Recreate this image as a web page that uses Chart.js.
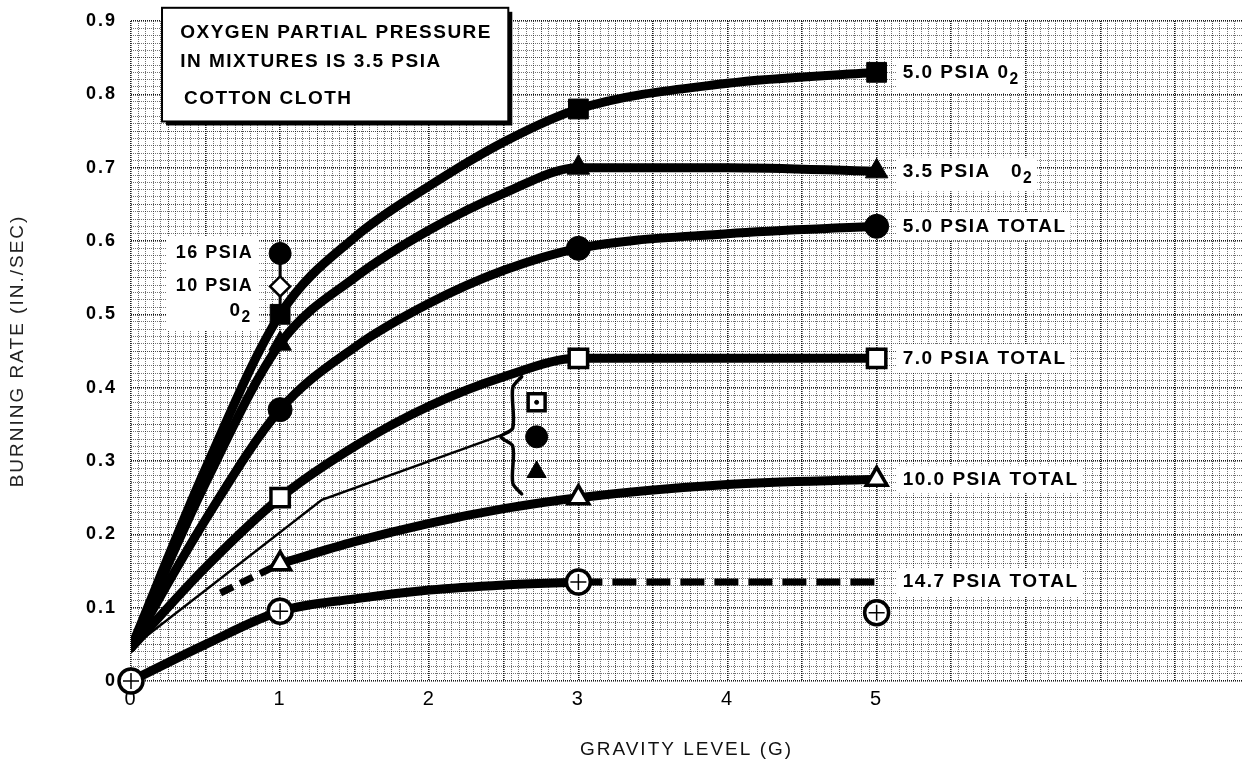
<!DOCTYPE html>
<html><head><meta charset="utf-8">
<script src="https://cdn.jsdelivr.net/npm/chart.js@4/dist/chart.umd.min.js"></script>
<style>html,body{margin:0;padding:0;background:#fff;overflow:hidden}canvas{display:block}</style>
</head><body><canvas id="c" width="1242" height="764"></canvas>
<script>
// ---------------- DATA ----------------
const gravity      = [0, 0.5, 1, 1.5, 2, 2.5, 3, 4, 5];
const o2_50psia    = [0.045, 0.29, 0.50, 0.605, 0.675, 0.735, 0.78, 0.815, 0.83];
const o2_35psia    = [0.045, 0.27, 0.46, 0.55, 0.615, 0.665, 0.70, 0.70, 0.695];
const total_50psia = [0.045, 0.22, 0.37, 0.455, 0.515, 0.56, 0.59, 0.61, 0.62];
const total_70psia = [0.045, 0.155, 0.25, 0.32, 0.375, 0.415, 0.44, 0.44, 0.44];

const gravity100     = [1, 1.5, 2, 2.5, 3, 4, 5];
const total_100psia  = [0.16, 0.19, 0.215, 0.235, 0.25, 0.268, 0.275];
const gravity100ext  = [0.6, 1];
const total_100ext   = [0.12, 0.16];

const gravity147     = [0, 0.5, 1, 1.5, 2, 2.5, 3];
const total_147psia  = [0, 0.05, 0.095, 0.112, 0.124, 0.131, 0.135];
const gravity147dash = [3, 5];
const total_147dash  = [0.135, 0.135];
const gravity147iso  = [5];
const total_147iso   = [0.093];

const thinG    = [0, 1.28, 2.48];
const thinRate = [0.045, 0.247, 0.335];
const bracketG    = [2.62, 2.56, 2.56, 2.48, 2.56, 2.56, 2.62];
const bracketRate = [0.415, 0.40, 0.345, 0.333, 0.32, 0.27, 0.255];

const sideG = [2.72];
const sideOpenSquare = [0.38];
const sideFilledCircle = [0.333];
const sideFilledTriangle = [0.285];

const pureG = [1];
const pure16psia = [0.583];
const pure10psia = [0.538];
const pureLinkG = [1, 1];
const pureLinkRate = [0.583, 0.50];

const measuredG = [1, 3, 5];
const xTickLabels = [0, 1, 2, 3, 4, 5];
const yTickLabels = [0, 0.1, 0.2, 0.3, 0.4, 0.5, 0.6, 0.7, 0.8, 0.9];

const seriesLabels = [
  {parts: [{t: '5.0 PSIA 0'}, {t: '2', sub: true}], g: 5, v: 0.83},
  {parts: [{t: '3.5 PSIA   0'}, {t: '2', sub: true}], g: 5, v: 0.695},
  {parts: [{t: '5.0 PSIA TOTAL'}], g: 5, v: 0.62},
  {parts: [{t: '7.0 PSIA TOTAL'}], g: 5, v: 0.44},
  {parts: [{t: '10.0 PSIA TOTAL'}], g: 5, v: 0.275},
  {parts: [{t: '14.7 PSIA TOTAL'}], g: 5, v: 0.135}
];
const noteLines = ['OXYGEN PARTIAL PRESSURE', 'IN MIXTURES IS 3.5 PSIA', 'COTTON CLOTH'];
const pureLabels = ['16 PSIA', '10 PSIA'];

// ---------------- helpers ----------------
const FONT = '"Liberation Sans", Arial, sans-serif';
const pts = (xs, ys) => xs.map((x, i) => ({x, y: ys[i]}));
const pick = (xs, ys, keep) => pts(xs, ys).filter(p => keep.includes(p.x));

function curve(data, extra) {
  return Object.assign({
    data, borderColor: '#000', borderWidth: 9, pointRadius: 0, fill: false,
    cubicInterpolationMode: 'monotone', order: 2, borderCapStyle: 'round'
  }, extra || {});
}
function marker(data, style, radius, filled, extra) {
  return Object.assign({
    data, showLine: false, pointStyle: style, pointRadius: radius,
    pointBackgroundColor: filled ? '#000' : '#fff', pointBorderColor: '#000',
    pointBorderWidth: filled ? 1 : 3.5, order: 0, clip: false
  }, extra || {});
}

const datasets = [
  marker(pick(gravity147, total_147psia, [0, 1, 3]).concat(pts(gravity147iso, total_147iso)), 'cross', 8, false, {pointBorderWidth: 1.5, order: -1}),
  marker(pts(sideG, sideOpenSquare), 'circle', 2, true, {order: -1}),
  marker(pick(gravity, o2_50psia, measuredG), 'rect', 14, true),
  marker(pick(gravity, o2_35psia, measuredG), 'triangle', 13, true),
  marker(pick(gravity, total_50psia, measuredG), 'circle', 12, true),
  marker(pick(gravity, total_70psia, measuredG), 'rect', 13, false),
  marker(pick(gravity100, total_100psia, measuredG), 'triangle', 12, false),
  marker(pick(gravity147, total_147psia, [0, 1, 3]), 'circle', 12, false),
  marker(pts(gravity147iso, total_147iso), 'circle', 12, false),
  marker(pts(sideG, sideOpenSquare), 'rect', 12, false),
  marker(pts(sideG, sideFilledCircle), 'circle', 11, true),
  marker(pts(sideG, sideFilledTriangle), 'triangle', 11, true),
  marker(pts(pureG, pure16psia), 'circle', 11, true),
  marker(pts(pureG, pure10psia), 'rectRot', 10, false, {pointBorderWidth: 2.5}),
  curve(pts(gravity, o2_50psia)),
  curve(pts(gravity, o2_35psia)),
  curve(pts(gravity, total_50psia)),
  curve(pts(gravity, total_70psia)),
  curve(pts(gravity100, total_100psia)),
  curve(pts(gravity100ext, total_100ext), {borderDash: [14, 8], borderWidth: 7, borderCapStyle: 'butt'}),
  curve(pts(gravity147, total_147psia)),
  curve(pts(gravity147dash, total_147dash), {borderDash: [24, 10], borderWidth: 7, borderCapStyle: 'butt'}),
  curve(pts(thinG, thinRate), {borderWidth: 2.5, cubicInterpolationMode: 'default', tension: 0}),
  curve(pts(bracketG, bracketRate), {borderWidth: 3.5, cubicInterpolationMode: 'default', tension: 0.3}),
  curve(pts(pureLinkG, pureLinkRate), {borderWidth: 3, cubicInterpolationMode: 'default', tension: 0})
];

// ---------------- annotation plugin ----------------
function partsWidth(ctx, parts, size) {
  let w = 0;
  for (const p of parts) {
    ctx.font = `bold ${p.sub ? size * 0.82 : size}px ${FONT}`;
    w += ctx.measureText(p.t).width;
  }
  return w;
}
function drawParts(ctx, parts, x, yc, size) {
  let cx = x;
  for (const p of parts) {
    ctx.font = `bold ${p.sub ? size * 0.82 : size}px ${FONT}`;
    ctx.fillText(p.t, cx, yc + (p.sub ? size * 0.38 : 0));
    cx += ctx.measureText(p.t).width;
  }
}

const annotate = {
  id: 'annotate',
  beforeDraw(chart) { chart.ctx.letterSpacing = '2px'; },
  afterDraw(chart) {
    const ctx = chart.ctx;
    const xs = chart.scales.x, ys = chart.scales.y;
    const X = v => xs.getPixelForValue(v), Y = v => ys.getPixelForValue(v);
    ctx.save();
    ctx.letterSpacing = '1.5px';
    ctx.textBaseline = 'middle';
    ctx.textAlign = 'left';
    ctx.fillStyle = '#000';
    const size = 19;
    for (const l of seriesLabels) {
      const x0 = X(l.g) + 26, yc = Y(l.v);
      const w = partsWidth(ctx, l.parts, size);
      const hasSub = l.parts.some(p => p.sub);
      ctx.fillStyle = '#fff';
      ctx.fillRect(x0 - 6, yc - 14, w + 10, hasSub ? 34 : 28);
      ctx.fillStyle = '#000';
      drawParts(ctx, l.parts, x0, yc, size);
    }
    const bx0 = X(0.208), bx1 = X(2.53), by0 = Y(0.918), by1 = Y(0.763);
    ctx.fillStyle = '#000';
    ctx.fillRect(bx0 + 4, by0 + 4, bx1 - bx0, by1 - by0);
    ctx.fillStyle = '#fff';
    ctx.fillRect(bx0, by0, bx1 - bx0, by1 - by0);
    ctx.lineWidth = 2;
    ctx.strokeStyle = '#000';
    ctx.strokeRect(bx0, by0, bx1 - bx0, by1 - by0);
    ctx.fillStyle = '#000';
    ctx.font = `bold ${size}px ${FONT}`;
    ctx.fillText(noteLines[0], X(0.33), Y(0.884));
    ctx.fillText(noteLines[1], X(0.33), Y(0.845));
    ctx.fillText(noteLines[2], X(0.355), Y(0.794));
    ctx.fillStyle = '#fff';
    ctx.fillRect(X(0.235), Y(0.607), X(0.86) - X(0.235), Y(0.478) - Y(0.607));
    ctx.fillStyle = '#000';
    ctx.textAlign = 'right';
    ctx.font = `bold ${size - 1}px ${FONT}`;
    ctx.fillText(pureLabels[0], X(0.82), Y(pure16psia[0]));
    ctx.fillText(pureLabels[1], X(0.82), Y(pure10psia[0]));
    ctx.textAlign = 'left';
    drawParts(ctx, [{t: '0'}, {t: '2', sub: true}], X(0.66), Y(0.505), size);
    ctx.restore();
    ctx.letterSpacing = '0px';
  }
};

// ---------------- grid styling ----------------
const near = (v, step) => Math.abs(v / step - Math.round(v / step)) < 1e-6;
const gridColorX = c => near(c.tick.value, 0.5) ? 'rgba(0,0,0,0.9)' : near(c.tick.value, 0.25) ? 'rgba(0,0,0,0.7)' : 'rgba(0,0,0,0.55)';
const gridWidthX = c => near(c.tick.value, 0.5) ? 1.6 : 1;
const gridColorY = c => near(c.tick.value, 0.1) ? 'rgba(0,0,0,0.9)' : near(c.tick.value, 0.05) ? 'rgba(0,0,0,0.7)' : 'rgba(0,0,0,0.55)';
const gridWidthY = c => near(c.tick.value, 0.1) ? 1.6 : 1;

new Chart(document.getElementById('c'), {
  type: 'line',
  data: {datasets},
  plugins: [annotate],
  options: {
    responsive: false, animation: false, events: [],
    layout: {autoPadding: false, padding: {top: 21, right: 0, bottom: 0, left: 0}},
    plugins: {legend: {display: false}, tooltip: {enabled: false}},
    scales: {
      x: {
        type: 'linear', min: 0, max: 7.45,
        afterFit: s => { s.height = 83; s.paddingRight = 0; s.paddingLeft = 0; },
        ticks: {
          stepSize: 0.05, autoSkip: false, maxRotation: 0, minRotation: 0, padding: 6, color: '#000',
          font: {size: 20, family: '"Liberation Sans Narrow", "Liberation Sans", Arial, sans-serif'},
          callback: v => { const t = xTickLabels.find(t => Math.abs(t - v) < 1e-6); return t === undefined ? '' : String(t); }
        },
        grid: {drawTicks: false, color: gridColorX, lineWidth: gridWidthX},
        border: {display: false, dash: [1, 1]},
        title: {display: true, text: 'GRAVITY LEVEL (G)', color: '#111',
          font: {size: 19, family: '"Liberation Sans Narrow", "Liberation Sans", Arial, sans-serif'}, padding: {top: 0, bottom: 3}}
      },
      y: {
        type: 'linear', min: 0, max: 0.9,
        afterFit: s => { s.width = 131; s.paddingTop = 0; s.paddingBottom = 0; },
        ticks: {
          stepSize: 0.01, autoSkip: false, padding: 14, color: '#000',
          font: {size: 18, weight: 'bold'},
          callback: v => { const t = yTickLabels.find(t => Math.abs(t - v) < 1e-6); return t === undefined ? '' : (t === 0 ? '0' : t.toFixed(1)); }
        },
        grid: {drawTicks: false, color: gridColorY, lineWidth: gridWidthY},
        border: {display: false, dash: [1, 1]},
        title: {display: true, text: 'BURNING RATE (IN./SEC)', color: '#222',
          font: {size: 19}, padding: {top: 6, bottom: 0}}
      }
    }
  }
});
</script>
</body></html>
